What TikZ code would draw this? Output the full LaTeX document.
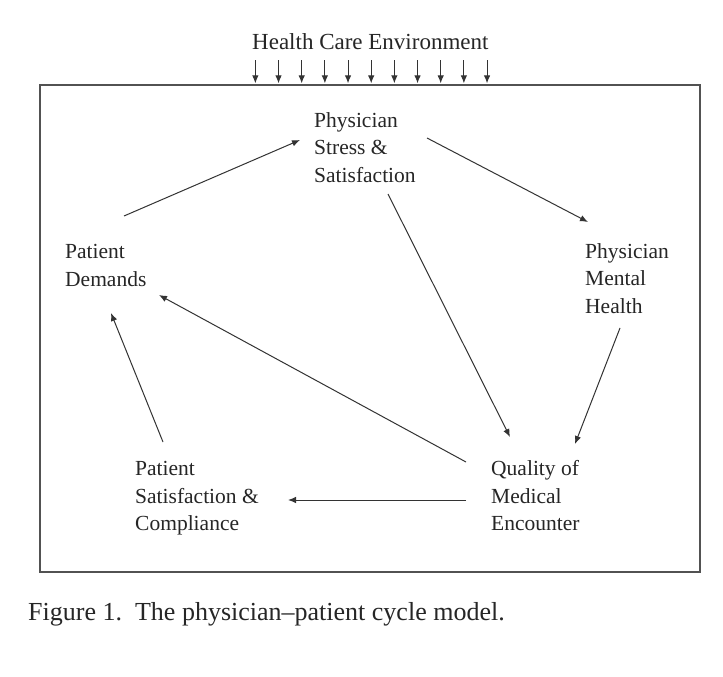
\documentclass[tikz,border=0pt]{standalone}
\usepackage{fontspec}
\setmainfont{Liberation Serif}
\usetikzlibrary{arrows.meta}
\definecolor{ink}{HTML}{262626}
\definecolor{lineink}{HTML}{333333}
\tikzset{
  lbl/.style={anchor=north west, inner sep=0pt, align=left, text=ink,
    font=\fontsize{21.5}{27.5}\selectfont},
  arr/.style={draw=lineink, line width=1pt, -{Latex[length=8pt,width=6.5pt]}},
  frame/.style={draw=lineink!85, line width=1.3pt, minimum width=660pt, minimum height=487pt, inner sep=0pt}
}
\begin{document}
\begin{tikzpicture}[x=1pt,y=-1pt]
\useasboundingbox[fill=white] (0,0) rectangle (723,677);
\node[frame] (env) at (370,328.5) {};
\node[anchor=base west, inner sep=0pt, text=ink, font=\fontsize{23}{27}\selectfont] (hce) at (252,50) {Health Care Environment};
\foreach \i in {0,...,10}{
  \draw[arr] ([shift={(216+23.17*\i,-24)}]env.north west) -- ([shift={(216+23.17*\i,-1)}]env.north west);
}
\node[lbl] (pss) at (314,112.3) {Physician\\Stress \&\\Satisfaction};
\node[lbl] (pd) at (65,244.3) {Patient\\Demands};
\node[lbl] (pmh) at (585,243.3) {Physician\\Mental\\Health};
\node[lbl] (psc) at (135,461.3) {Patient\\Satisfaction \&\\Compliance};
\node[lbl] (qme) at (491,460.3) {Quality of\\Medical\\Encounter};
\draw[arr] ([shift={(59,-28.3)}]pd.north west) -- ([shift={(-14,27.7)}]pss.north west);
\draw[arr] ([shift={(113,25.7)}]pss.north west) -- ([shift={(3,-21.3)}]pmh.north west);
\draw[arr] ([shift={(74,81.7)}]pss.north west) -- ([shift={(19,-23.3)}]qme.north west);
\draw[arr] ([shift={(35,84.7)}]pmh.north west) -- ([shift={(84,-16.3)}]qme.north west);
\draw[arr] ([shift={(-25,1.7)}]qme.north west) -- ([shift={(94,50.7)}]pd.north west);
\draw[arr] ([shift={(-25,39.7)}]qme.north west) -- ([shift={(153,38.7)}]psc.north west);
\draw[arr] ([shift={(28,-19.3)}]psc.north west) -- ([shift={(46,68.7)}]pd.north west);
\node[anchor=base west, inner sep=0pt, text=ink, font=\fontsize{26}{30}\selectfont] (cap) at (28,620) {Figure 1.\ \ The physician--patient cycle model.};
\end{tikzpicture}
\end{document}
